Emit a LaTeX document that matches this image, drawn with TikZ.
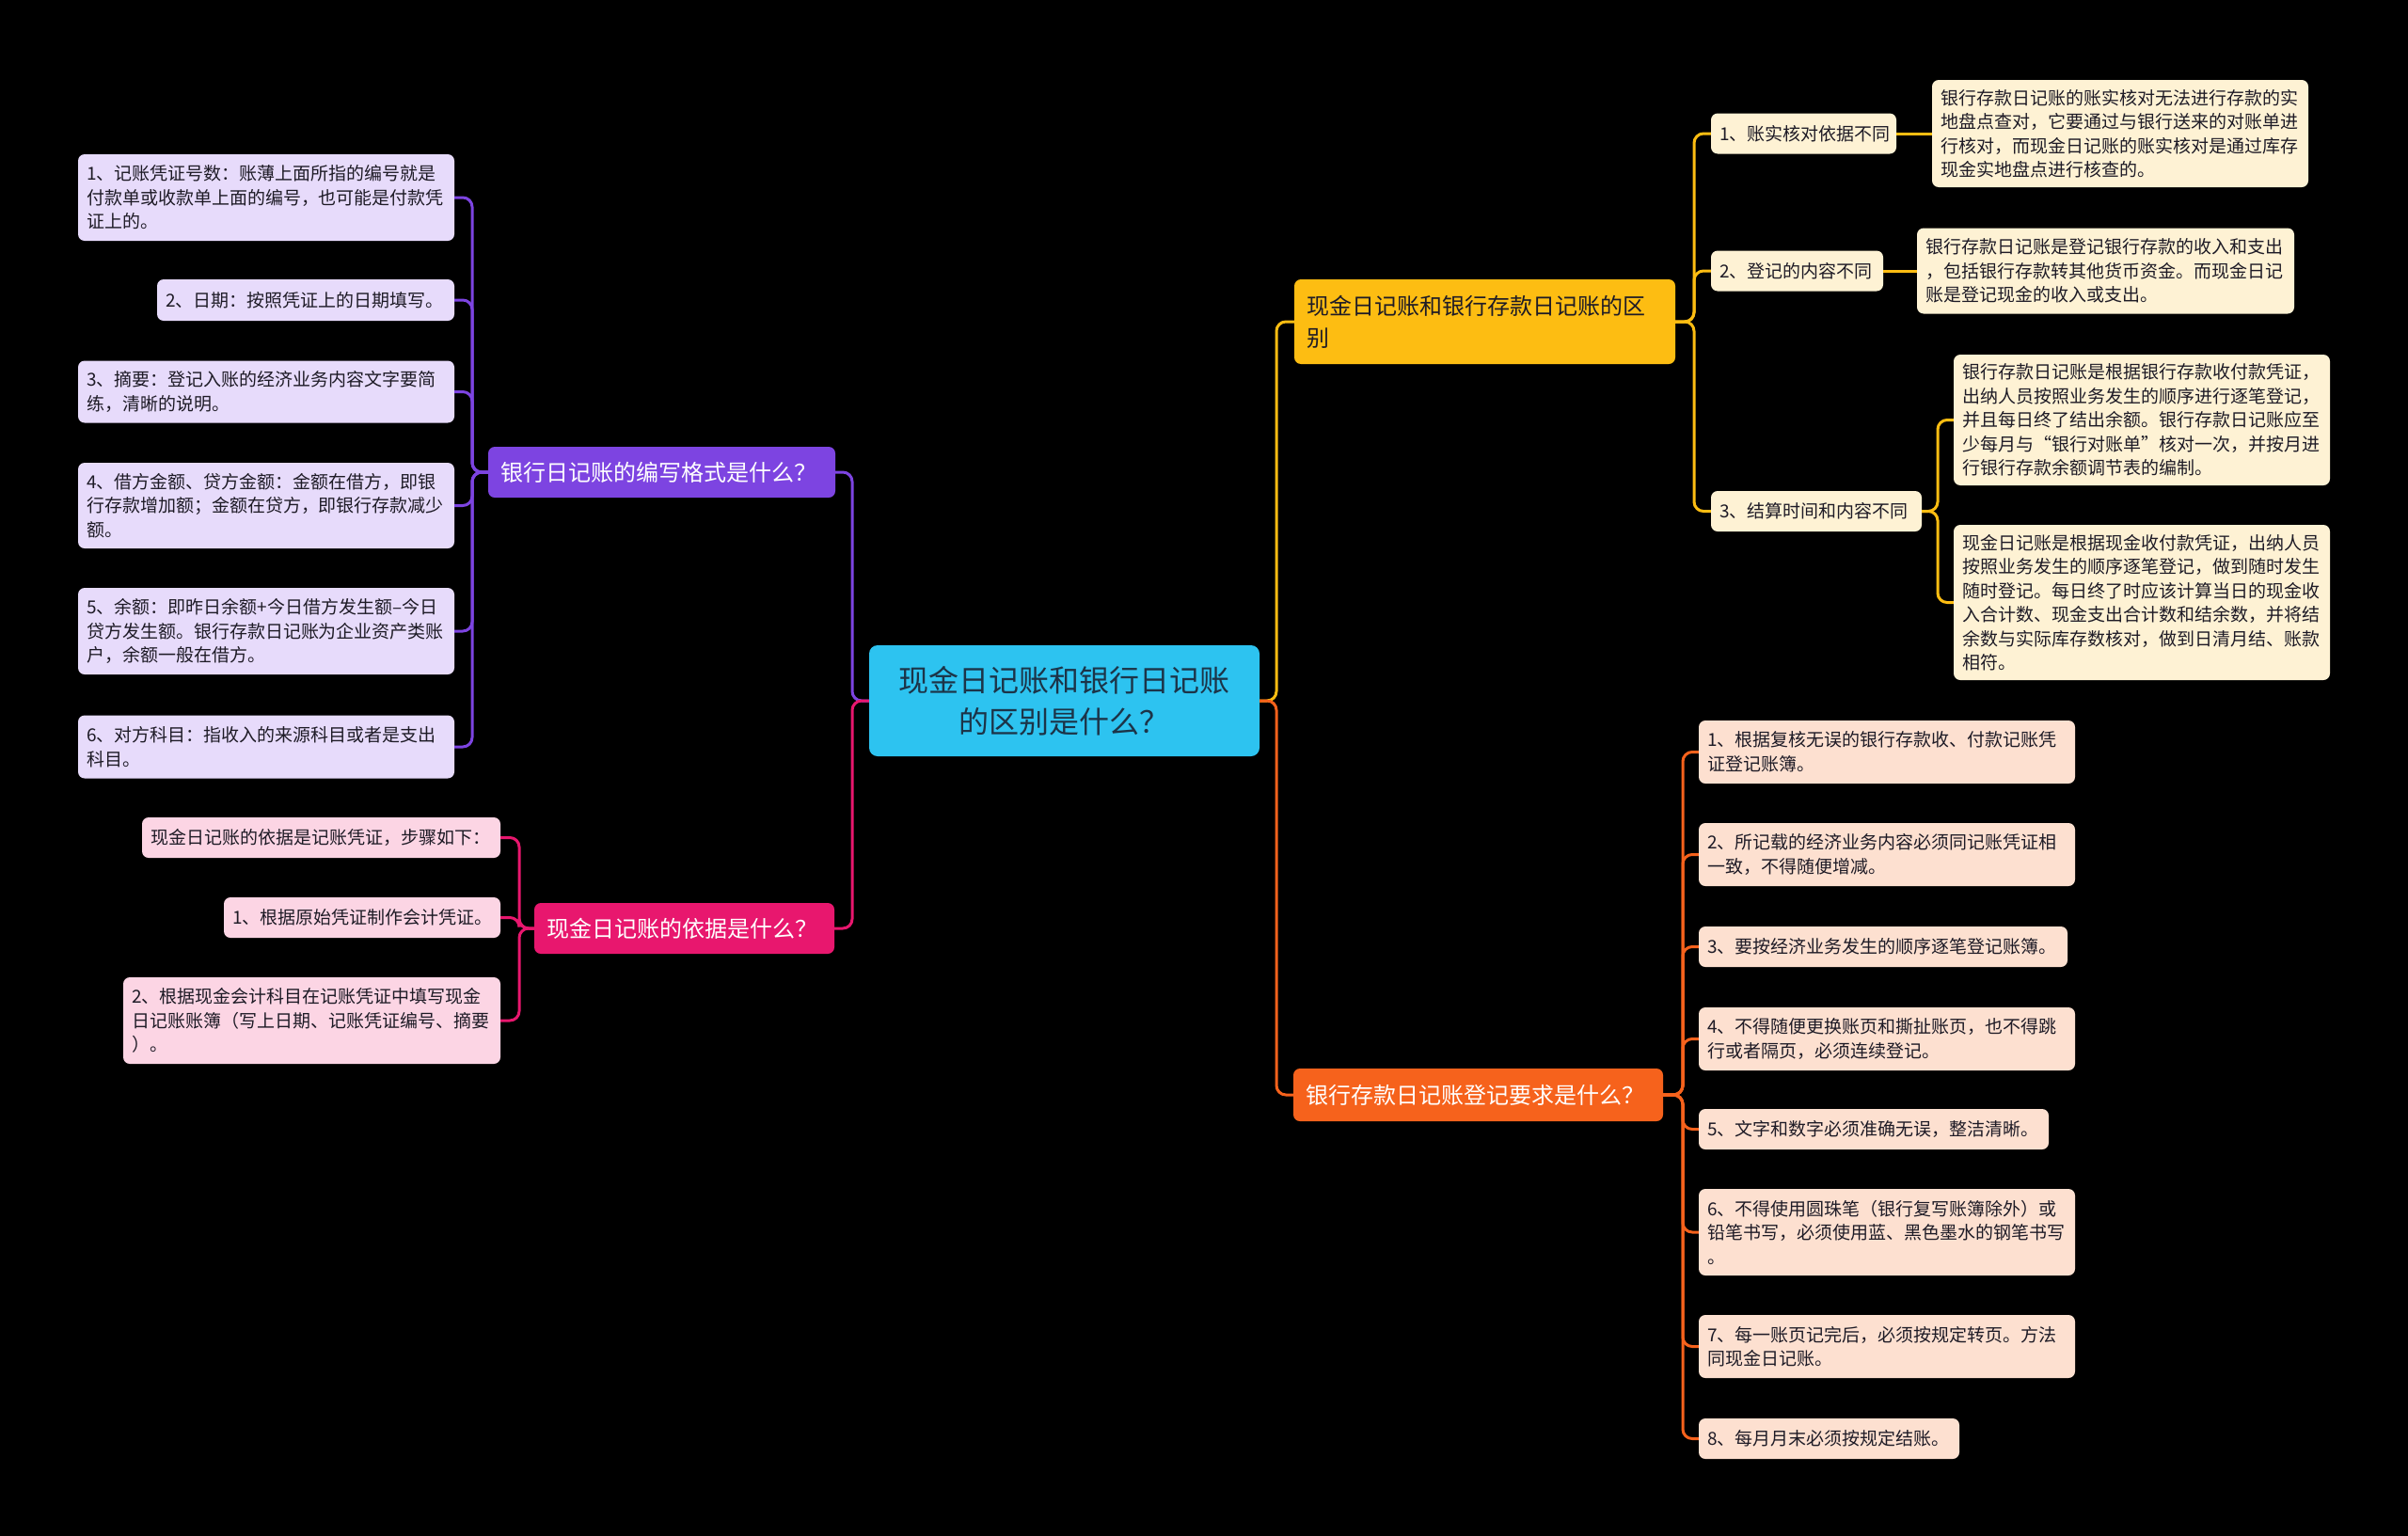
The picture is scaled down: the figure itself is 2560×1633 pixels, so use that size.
\documentclass[tikz,border=0pt]{standalone}
\usepackage{fontspec}
\newfontfamily\cjk{Noto Sans CJK SC}
\definecolor{cRoot}{HTML}{2DC3F0}
\definecolor{cRootTxt}{HTML}{1C3448}
\definecolor{cY}{HTML}{FDBD12}
\definecolor{cYL}{HTML}{FEF2D4}
\definecolor{cP}{HTML}{7D44E1}
\definecolor{cPL}{HTML}{E7DBFB}
\definecolor{cK}{HTML}{E8176E}
\definecolor{cKL}{HTML}{FCD5E4}
\definecolor{cO}{HTML}{F6621C}
\definecolor{cOL}{HTML}{FDE0D0}
\definecolor{txt}{HTML}{1E1B26}
\tikzset{
  boxbase/.style={rounded corners=7pt, inner xsep=9pt, inner ysep=0pt, align=left, anchor=center},
  leaf/.style={boxbase, font=\cjk\fontsize{19}{25.5}\selectfont, text=txt},
  leafP/.style={leaf, fill=cPL},
  leafK/.style={leaf, fill=cKL},
  leafY/.style={leaf, fill=cYL},
  leafO/.style={leaf, fill=cOL},
  branch/.style={boxbase, inner xsep=13pt, font=\cjk\fontsize{24}{34}\selectfont},
  brP/.style={branch, fill=cP, text=white},
  brK/.style={branch, fill=cK, text=white},
  brO/.style={branch, fill=cO, text=white},
  brY/.style={branch, fill=cY, text=txt},
  rootbox/.style={boxbase, rounded corners=9pt, fill=cRoot, text=cRootTxt, align=center, font=\cjk\fontsize{32}{44}\selectfont},
  ln/.style={line width=3pt, rounded corners=10pt},
  lnP/.style={ln, draw=cP},
  lnK/.style={ln, draw=cK},
  lnY/.style={ln, draw=cY},
  lnO/.style={ln, draw=cO},
}
\begin{document}
\begin{tikzpicture}[x=1pt,y=-1pt]
\useasboundingbox (0,0) rectangle (2560,1633);
\fill[black] (0,0) rectangle (2560,1633);

% trunk coordinates
\coordinate (lt) at (906,745);
\coordinate (rt) at (1357,745);
\coordinate (pt) at (502,502);
\coordinate (kt) at (552,987);
\coordinate (yt) at (1801,342);
\coordinate (y3t) at (2060,543.5);
\coordinate (ot) at (1789,1164);

% root
\node[rootbox, minimum width=415pt, minimum height=118pt, text width=395pt] (root) at (1131.5,745) {现金日记账和银行日记账\\的区别是什么？};

% branches
\node[brY, minimum width=405pt, minimum height=90pt, text width=379pt] (Y) at (1578.5,342) {现金日记账和银行存款日记账的区\\别};
\node[brP, minimum width=369pt, minimum height=54pt, text width=343pt] (P) at (703.5,502) {银行日记账的编写格式是什么？};
\node[brK, minimum width=319pt, minimum height=54pt, text width=293pt] (K) at (727.5,987) {现金日记账的依据是什么？};
\node[brO, minimum width=393pt, minimum height=56pt, text width=367pt] (O) at (1571.5,1164) {银行存款日记账登记要求是什么？};

% purple leaves
\node[leafP, minimum width=400pt, minimum height=92pt, text width=382pt] (pl1) at (283,210) {1、记账凭证号数：账薄上面所指的编号就是\\付款单或收款单上面的编号，也可能是付款凭\\证上的。};
\node[leafP, minimum width=316pt, minimum height=44pt, text width=298pt] (pl2) at (325,319) {2、日期：按照凭证上的日期填写。};
\node[leafP, minimum width=400pt, minimum height=66pt, text width=382pt] (pl3) at (283,416.5) {3、摘要：登记入账的经济业务内容文字要简\\练，清晰的说明。};
\node[leafP, minimum width=400pt, minimum height=91pt, text width=382pt] (pl4) at (283,537.5) {4、借方金额、贷方金额：金额在借方，即银\\行存款增加额；金额在贷方，即银行存款减少\\额。};
\node[leafP, minimum width=400pt, minimum height=92pt, text width=382pt] (pl5) at (283,671) {5、余额：即昨日余额+今日借方发生额–今日\\贷方发生额。银行存款日记账为企业资产类账\\户，余额一般在借方。};
\node[leafP, minimum width=400pt, minimum height=67pt, text width=382pt] (pl6) at (283,794) {6、对方科目：指收入的来源科目或者是支出\\科目。};

% pink leaves
\node[leafK, minimum width=381pt, minimum height=43pt, text width=363pt] (pk1) at (341.5,890.5) {现金日记账的依据是记账凭证，步骤如下：};
\node[leafK, minimum width=294pt, minimum height=43pt, text width=276pt] (pk2) at (385,975.5) {1、根据原始凭证制作会计凭证。};
\node[leafK, minimum width=401pt, minimum height=92pt, text width=383pt] (pk3) at (331.5,1085) {2、根据现金会计科目在记账凭证中填写现金\\日记账账簿（写上日期、记账凭证编号、摘要\\）。};

% yellow leaves
\node[leafY, minimum width=197pt, minimum height=43pt, text width=179pt] (y1) at (1917.5,142) {1、账实核对依据不同};
\node[leafY, minimum width=400pt, minimum height=114pt, text width=382pt] (y1d) at (2254,142) {银行存款日记账的账实核对无法进行存款的实\\地盘点查对，它要通过与银行送来的对账单进\\行核对，而现金日记账的账实核对是通过库存\\现金实地盘点进行核查的。};
\node[leafY, minimum width=183pt, minimum height=43pt, text width=165pt] (y2) at (1910.5,288) {2、登记的内容不同};
\node[leafY, minimum width=401pt, minimum height=91pt, text width=383pt] (y2d) at (2238.5,288) {银行存款日记账是登记银行存款的收入和支出\\，包括银行存款转其他货币资金。而现金日记\\账是登记现金的收入或支出。};
\node[leafY, minimum width=224pt, minimum height=43pt, text width=206pt] (y3) at (1931,543.5) {3、结算时间和内容不同};
\node[leafY, minimum width=400pt, minimum height=139pt, text width=382pt] (y3a) at (2277,446.5) {银行存款日记账是根据银行存款收付款凭证，\\出纳人员按照业务发生的顺序进行逐笔登记，\\并且每日终了结出余额。银行存款日记账应至\\少每月与“银行对账单”核对一次，并按月进\\行银行存款余额调节表的编制。};
\node[leafY, minimum width=400pt, minimum height=165pt, text width=382pt] (y3b) at (2277,640.5) {现金日记账是根据现金收付款凭证，出纳人员\\按照业务发生的顺序逐笔登记，做到随时发生\\随时登记。每日终了时应该计算当日的现金收\\入合计数、现金支出合计数和结余数，并将结\\余数与实际库存数核对，做到日清月结、账款\\相符。};

% orange leaves
\node[leafO, minimum width=400pt, minimum height=67pt, text width=382pt] (o1) at (2006,799.5) {1、根据复核无误的银行存款收、付款记账凭\\证登记账簿。};
\node[leafO, minimum width=400pt, minimum height=67pt, text width=382pt] (o2) at (2006,908.5) {2、所记载的经济业务内容必须同记账凭证相\\一致，不得随便增减。};
\node[leafO, minimum width=392pt, minimum height=43pt, text width=374pt] (o3) at (2002,1006.5) {3、要按经济业务发生的顺序逐笔登记账簿。};
\node[leafO, minimum width=400pt, minimum height=67pt, text width=382pt] (o4) at (2006,1104.5) {4、不得随便更换账页和撕扯账页，也不得跳\\行或者隔页，必须连续登记。};
\node[leafO, minimum width=372pt, minimum height=43pt, text width=354pt] (o5) at (1992,1200.5) {5、文字和数字必须准确无误，整洁清晰。};
\node[leafO, minimum width=400pt, minimum height=92pt, text width=382pt] (o6) at (2006,1310) {6、不得使用圆珠笔（银行复写账簿除外）或\\铅笔书写，必须使用蓝、黑色墨水的钢笔书写\\。};
\node[leafO, minimum width=400pt, minimum height=67pt, text width=382pt] (o7) at (2006,1431.5) {7、每一账页记完后，必须按规定转页。方法\\同现金日记账。};
\node[leafO, minimum width=277pt, minimum height=43pt, text width=259pt] (o8) at (1944.5,1529.5) {8、每月月末必须按规定结账。};

% connectors (drawn behind nodes)
\begin{scope}[on background layer/.try]
\end{scope}
\draw[lnP] (root.west) -- (lt) |- (P.east);
\draw[lnK] (root.west) -- (lt) |- (K.east);
\draw[lnY] (root.east) -- (rt) |- (Y.west);
\draw[lnO] (root.east) -- (rt) |- (O.west);

\foreach \n in {pl1,pl2,pl3,pl4,pl5,pl6}{\draw[lnP] (P.west) -- (pt) |- (\n.east);}
\foreach \n in {pk1,pk2,pk3}{\draw[lnK] (K.west) -- (kt) |- (\n.east);}
\foreach \n in {y1,y2,y3}{\draw[lnY] (Y.east) -- (yt) |- (\n.west);}
\draw[lnY] (y1.east) -- (y1d.west);
\draw[lnY] (y2.east) -- (y2d.west);
\foreach \n in {y3a,y3b}{\draw[lnY] (y3.east) -- (y3t) |- (\n.west);}
\foreach \n in {o1,o2,o3,o4,o5,o6,o7,o8}{\draw[lnO] (O.east) -- (ot) |- (\n.west);}
\end{tikzpicture}
\end{document}
